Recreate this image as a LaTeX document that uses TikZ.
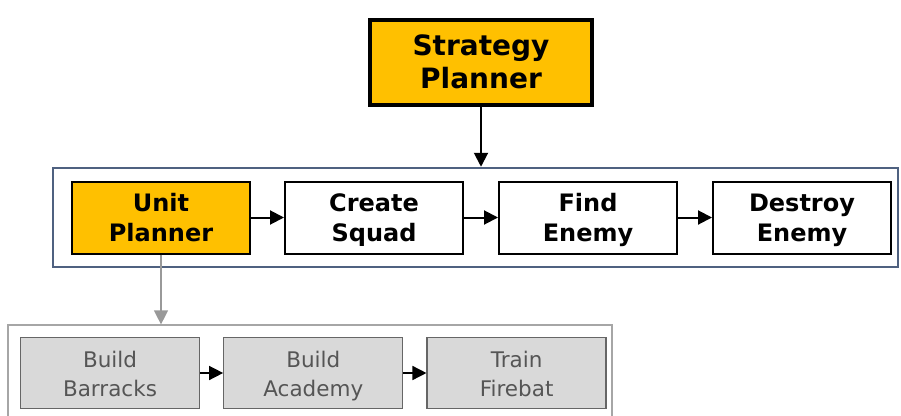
\documentclass[tikz,border=0pt]{standalone}
\usepackage{fontspec}
\setmainfont{DejaVu Sans}
\usepackage{xcolor}
\usepackage{tikz}
\usetikzlibrary{positioning, arrows.meta}

\definecolor{plannergold}{HTML}{FFC000}
\definecolor{framesteel}{HTML}{4F6180}
\definecolor{subgray}{HTML}{D9D9D9}
\definecolor{subtext}{HTML}{555555}

\begin{document}
\begin{tikzpicture}[x=1pt, y=-1pt, >={Triangle[length=14pt, width=14pt]},
    node distance=33pt,
    task/.style={draw, line width=2pt, rectangle, minimum width=178pt, minimum height=72pt,
        align=center, font=\fontsize{24}{30}\selectfont\bfseries, inner sep=0pt,
        text height=48pt, text depth=0pt},
    subtask/.style={draw=gray!80!black, line width=1.3pt, fill=subgray, rectangle,
        minimum width=179pt, minimum height=71pt, align=center, text=subtext,
        font=\fontsize{21.5}{29}\selectfont, inner sep=0pt, text height=47pt, text depth=0pt}]

    \clip (0,0) rectangle (901,415);

    % Top level planner
    \node[draw, line width=4pt, fill=plannergold, rectangle, minimum width=222pt, minimum height=85pt,
        align=center, font=\fontsize{28}{33}\selectfont\bfseries] (strategy) at (481,62) {Strategy\\Planner};

    % Frame of the unit plan
    \node[draw=framesteel, line width=2.5pt, rectangle, minimum width=845pt, minimum height=99pt] (plan) at (475.5,217.5) {};

    % Tasks of the unit plan
    \node[task, fill=plannergold] (unit) at (161,217.5) {Unit\\Planner};
    \node[task, right=of unit] (squad) {Create\\Squad};
    \node[task, right=34pt of squad] (find) {Find\\Enemy};
    \node[task, right=34pt of find] (destroy) {Destroy\\Enemy};

    % Frame of the build plan
    \node[draw=gray!70, line width=1.2pt, rectangle, minimum width=604pt, minimum height=110pt] (build) at (310,380) {};

    % Tasks of the build plan
    \node[subtask] (barracks) at (110,373) {Build\\Barracks};
    \node[subtask, right=23pt of barracks] (academy) {Build\\Academy};
    \node[subtask, right=23pt of academy] (firebat) {Train\\Firebat};

    % Connections
    \draw[->, line width=2pt] (strategy.south) -- (strategy.south |- plan.north);
    \draw[->, line width=2pt] (unit) -- (squad);
    \draw[->, line width=2pt] (squad) -- (find);
    \draw[->, line width=2pt] (find) -- (destroy);
    \draw[->, line width=1.3pt, draw=gray!80] (unit.south) -- (unit.south |- build.north);
    \draw[->, line width=1.5pt] (barracks) -- (academy);
    \draw[->, line width=1.5pt] (academy) -- (firebat);

\end{tikzpicture}
\end{document}
